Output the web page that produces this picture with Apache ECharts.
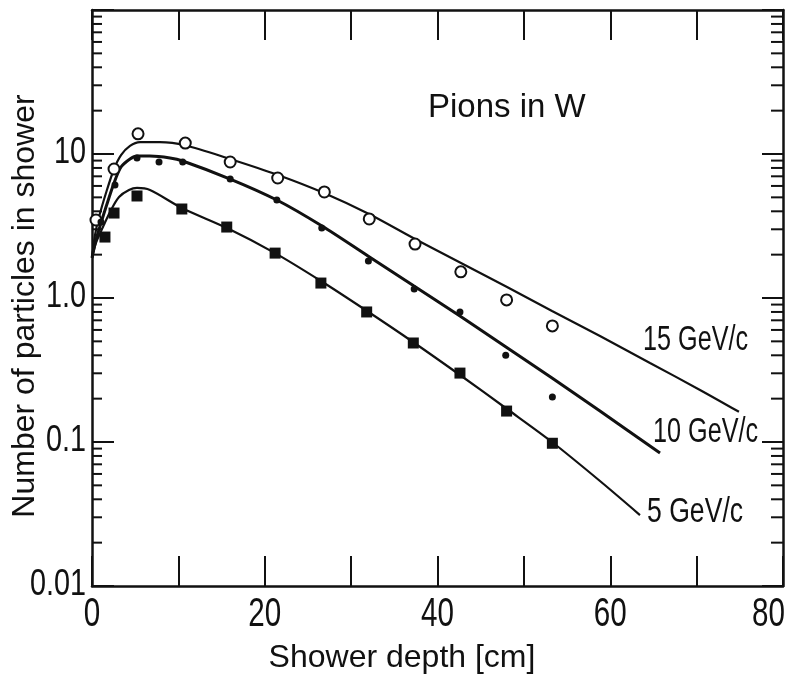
<!DOCTYPE html>
<html>
<head>
<meta charset="utf-8">
<title>Pions in W – longitudinal shower profile</title>
<script src="https://cdn.jsdelivr.net/npm/echarts@6/dist/echarts.min.js"></script>
<style>
  html, body { margin: 0; padding: 0; background: #fff; }
  #chart { width: 791px; height: 677px; }
</style>
</head>
<body>
<div id="chart"></div>
<script>
// Shower depth [cm] vs number of particles, pions in tungsten

// Fitted curves
const curve15 = [
  [0, 1.90], [0.35, 2.74], [0.81, 3.65], [1.62, 5.36], [2.55, 7.87], [3.36, 9.84],
  [4.40, 11.4], [5.56, 12.1], [7.87, 12.1], [10.77, 11.5], [15.98, 9.23], [21.53, 7.15],
  [26.86, 5.36], [32.07, 3.83], [37.39, 2.57], [42.72, 1.75], [48.05, 1.192], [53.26, 0.812],
  [58.81, 0.545], [64.6, 0.354], [70.39, 0.230], [74.9, 0.162]
];
const curve10 = [
  [0, 1.90], [0.46, 2.53], [1.04, 3.32], [1.62, 4.28], [2.55, 6.29], [3.36, 8.12],
  [4.40, 9.23], [5.21, 9.68], [6.71, 9.68], [9.03, 9.38], [10.5, 8.94], [16.0, 6.70],
  [21.4, 4.79], [26.63, 3.16], [31.95, 1.957], [37.28, 1.212], [42.6, 0.750], [47.93, 0.457],
  [53.26, 0.278], [58.81, 0.164], [65.76, 0.084]
];
const curve5 = [
  [0, 1.90], [0.46, 2.41], [1.27, 3.11], [2.20, 4.08], [3.13, 5.03], [4.28, 5.62],
  [5.21, 5.81], [6.71, 5.62], [10.4, 4.22], [15.63, 3.06], [21.19, 2.05], [26.51, 1.312],
  [31.84, 0.812], [37.16, 0.495], [42.6, 0.292], [48.05, 0.1695], [53.26, 0.100],
  [58.81, 0.0536], [63.44, 0.0311]
];

// Measured points
const points15 = [
  [0.46, 3.48], [2.55, 7.87], [5.33, 13.8], [10.8, 11.9], [16.0, 8.80], [21.5, 6.81],
  [26.9, 5.45], [32.1, 3.54], [37.4, 2.37], [42.7, 1.52], [48.0, 0.97], [53.3, 0.64]
];
const points10 = [
  [1.04, 3.37], [2.66, 6.09], [5.21, 9.38], [7.76, 8.80], [10.5, 8.80], [16.0, 6.70],
  [21.4, 4.79], [26.6, 3.06], [32.0, 1.81], [37.3, 1.155], [42.6, 0.80], [47.9, 0.40],
  [53.3, 0.205]
];
const points5 = [
  [1.50, 2.65], [2.55, 3.89], [5.21, 5.11], [10.4, 4.15], [15.6, 3.11], [21.2, 2.05],
  [26.5, 1.27], [31.8, 0.80], [37.2, 0.487], [42.6, 0.301], [48.0, 0.164], [53.3, 0.098]
];

// Axis ticks and their labels
const depthLabels = [0, 20, 40, 60, 80];
const decadeValues = [0.01, 0.1, 1, 10];
const decadeLabels = ['0.01', '0.1', '1.0', '10'];
const minorTickValues = [
  0.02, 0.03, 0.04, 0.05, 0.06, 0.07, 0.08, 0.09,
  0.2, 0.3, 0.4, 0.5, 0.6, 0.7, 0.8, 0.9,
  2, 3, 4, 5, 6, 7, 8, 9,
  20, 30, 40, 50, 60, 70, 80, 90
];

const INK = '#111';
const textFont = '"Liberation Sans", Arial, Helvetica, sans-serif';

const chart = echarts.init(document.getElementById('chart'), null, { renderer: 'canvas' });

const xBase = {
  type: 'value', min: 0, max: 80, interval: 10,
  splitLine: { show: false },
  axisLabel: { show: false },
  axisLine: { show: true, onZero: false, lineStyle: { color: INK, width: 2.5 } },
  axisTick: { show: true, inside: true, length: 30, lineStyle: { color: INK, width: 2 } }
};
const yBase = {
  type: 'log', logBase: 10, min: 0.01, max: 100,
  splitLine: { show: false },
  axisLabel: { show: false },
  axisLine: { show: true, onZero: false, lineStyle: { color: INK, width: 2.5 } },
  axisTick: { show: true, inside: true, length: 22, lineStyle: { color: INK, width: 2 } }
};

// Short inward ticks at 2..9 of every decade, on both vertical frame edges
function minorTicks(params, api) {
  const cs = params.coordSys;
  const y = api.coord([0, api.value(1)])[1];
  const style = { stroke: INK, lineWidth: 2 };
  return {
    type: 'group',
    children: [
      { type: 'line', shape: { x1: cs.x, y1: y, x2: cs.x + 10, y2: y }, style },
      { type: 'line', shape: { x1: cs.x + cs.width, y1: y, x2: cs.x + cs.width - 12, y2: y }, style }
    ]
  };
}

chart.setOption({
  backgroundColor: '#fff',
  animation: false,
  grid: { left: 92, right: 8, top: 10, bottom: 91, containLabel: false, outerBoundsMode: 'none' },
  xAxis: [
    Object.assign({}, xBase, { position: 'bottom' }),
    Object.assign({}, xBase, { position: 'top' })
  ],
  yAxis: [
    Object.assign({}, yBase, { position: 'left' }),
    Object.assign({}, yBase, { position: 'right', axisTick: Object.assign({}, yBase.axisTick, { length: 21 }) })
  ],
  series: [
    {
      name: 'minor ticks', type: 'custom', xAxisIndex: 0, yAxisIndex: 0, clip: false, silent: true,
      data: minorTickValues.map(v => [0, v]), renderItem: minorTicks, z: 3
    },
    { name: '15 GeV/c', type: 'line', data: curve15, smooth: 0.3, showSymbol: false,
      lineStyle: { color: INK, width: 2.2 }, z: 2 },
    { name: '10 GeV/c', type: 'line', data: curve10, smooth: 0.3, showSymbol: false,
      lineStyle: { color: INK, width: 3 }, z: 2 },
    { name: '5 GeV/c', type: 'line', data: curve5, smooth: 0.3, showSymbol: false,
      lineStyle: { color: INK, width: 2.2 }, z: 2 },
    { name: '15 GeV/c data', type: 'scatter', data: points15, symbol: 'circle', symbolSize: 11,
      itemStyle: { color: '#fff', borderColor: INK, borderWidth: 2, opacity: 1 }, z: 5 },
    { name: '10 GeV/c data', type: 'scatter', data: points10, symbol: 'circle', symbolSize: 7,
      itemStyle: { color: INK, opacity: 1 }, z: 5 },
    { name: '5 GeV/c data', type: 'scatter', data: points5, symbol: 'rect', symbolSize: 11,
      itemStyle: { color: INK, opacity: 1 }, z: 5 }
  ]
});

// Tick labels in a narrow digit style, placed at the axis positions of their values
const xAxisBottom = chart.convertToPixel({ gridIndex: 0 }, [0, 0.01])[1];
const yAxisLeft = chart.convertToPixel({ gridIndex: 0 }, [0, 0.01])[0];

const tickText = [];
depthLabels.forEach((v, i) => {
  const px = chart.convertToPixel({ xAxisIndex: 0 }, v);
  const last = i === depthLabels.length - 1;
  tickText.push({
    type: 'text', x: last ? px + 2 : px, y: xAxisBottom + 29, scaleX: 0.74,
    style: { text: String(v), fontFamily: textFont, fontSize: 40, fill: INK,
      textAlign: last ? 'right' : 'center', textVerticalAlign: 'middle' }
  });
});
decadeValues.forEach((v, i) => {
  const py = chart.convertToPixel({ yAxisIndex: 0 }, v);
  tickText.push({
    type: 'text', x: yAxisLeft - 6, y: py - 1, scaleX: 0.8,
    style: { text: decadeLabels[i], fontFamily: textFont, fontSize: 36, fill: INK,
      textAlign: 'right', textVerticalAlign: 'middle' }
  });
});

const titles = [
  { type: 'text', x: 25, y: 306, rotation: Math.PI / 2,
    style: { text: 'Number of particles in shower', fontFamily: textFont, fontSize: 32, fill: INK,
      textAlign: 'center', textVerticalAlign: 'middle' } },
  { type: 'text', x: 402, y: 658,
    style: { text: 'Shower depth [cm]', fontFamily: textFont, fontSize: 32, fill: INK,
      textAlign: 'center', textVerticalAlign: 'middle' } },
  { type: 'text', x: 428, y: 108,
    style: { text: 'Pions in W', fontFamily: textFont, fontSize: 33, fill: INK,
      textAlign: 'left', textVerticalAlign: 'middle' } },
  { type: 'text', x: 643, y: 340, scaleX: 0.72,
    style: { text: '15 GeV/c', fontFamily: textFont, fontSize: 35, fill: INK,
      textAlign: 'left', textVerticalAlign: 'middle' } },
  { type: 'text', x: 653, y: 432, scaleX: 0.72,
    style: { text: '10 GeV/c', fontFamily: textFont, fontSize: 35, fill: INK,
      textAlign: 'left', textVerticalAlign: 'middle' } },
  { type: 'text', x: 647, y: 512, scaleX: 0.76,
    style: { text: '5 GeV/c', fontFamily: textFont, fontSize: 35, fill: INK,
      textAlign: 'left', textVerticalAlign: 'middle' } }
];

chart.setOption({ graphic: tickText.concat(titles) });
</script>
</body>
</html>
